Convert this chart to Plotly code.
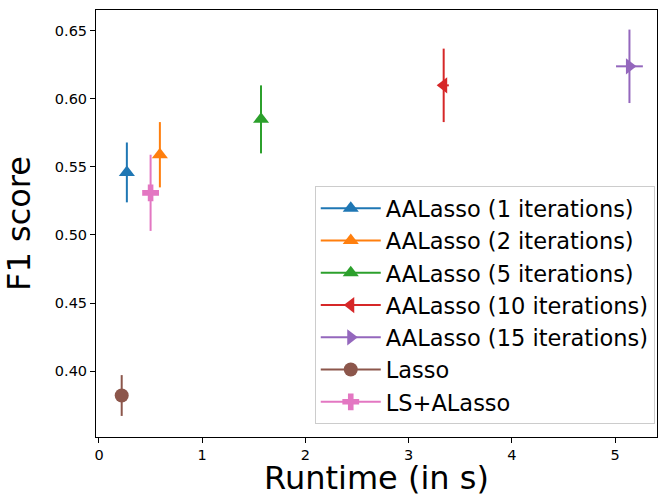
import plotly.graph_objects as go

methods = ["AALasso (1 iterations)", "AALasso (2 iterations)", "AALasso (5 iterations)",
           "AALasso (10 iterations)", "AALasso (15 iterations)", "Lasso", "LS+ALasso"]
runtime = [0.27, 0.59, 1.57, 3.34, 5.14, 0.22, 0.50]
runtime_err = [0.02, 0.03, 0.04, 0.05, 0.13, 0.02, 0.04]
f1 = [0.546, 0.559, 0.585, 0.610, 0.624, 0.382, 0.531]
f1_err = [0.022, 0.024, 0.025, 0.027, 0.027, 0.015, 0.028]

colors = ["#1f77b4", "#ff7f0e", "#2ca02c", "#d62728", "#9467bd", "#8c564b", "#e377c2"]
symbols = ["triangle-up", "triangle-up", "triangle-up", "triangle-left", "triangle-right", "circle", "cross"]
y_ticks = [0.40, 0.45, 0.50, 0.55, 0.60, 0.65]
x_ticks = [0, 1, 2, 3, 4, 5]

FONT = "DejaVu Sans"
fig = go.Figure()
for i, name in enumerate(methods):
    fig.add_trace(go.Scatter(
        x=[runtime[i]], y=[f1[i]], name=name, mode="lines+markers",
        legendgroup=name,
        line=dict(color=colors[i], width=2),
        marker=dict(symbol=symbols[i], size=14, color=colors[i], line=dict(width=0)),
        error_y=dict(type="data", array=[f1_err[i]], color=colors[i], thickness=2, width=0),
        error_x=dict(type="data", array=[runtime_err[i]], color=colors[i], thickness=2, width=0),
    ))

axis_common = dict(showline=True, linecolor="black", linewidth=1, mirror=True,
                   ticks="outside", ticklen=5, tickwidth=1, tickcolor="black",
                   showgrid=False, zeroline=False, automargin=False,
                   tickfont=dict(family=FONT, size=14.5, color="black"))

fig.update_layout(
    width=658, height=497,
    margin=dict(l=96, r=1, t=10, b=60, autoexpand=False),
    paper_bgcolor="white", plot_bgcolor="white",
    font=dict(family=FONT, color="black"),
    xaxis=dict(range=[-0.029, 5.407], tickvals=x_ticks,
               title=dict(text="Runtime (in s)", font=dict(family=FONT, size=32), standoff=12),
               **axis_common),
    yaxis=dict(range=[0.3515, 0.6654], tickvals=y_ticks, tickformat=".2f",
               title=dict(text="F1 score", font=dict(family=FONT, size=32), standoff=14),
               **axis_common),
    legend=dict(x=0.996, y=0.03, xanchor="right", yanchor="bottom",
                font=dict(family=FONT, size=22.5, color="black"),
                bgcolor="rgba(255,255,255,0.8)", bordercolor="#cccccc", borderwidth=1,
                tracegroupgap=0, itemwidth=60),
    showlegend=True,
)

fig.write_html("out.html", config={"displayModeBar": False},
               post_script="document.body.style.margin='0';document.body.style.overflow='hidden';")
